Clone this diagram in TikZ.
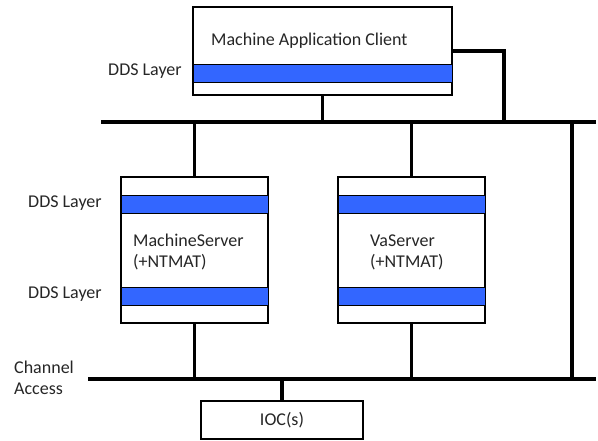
\documentclass[tikz,border=0pt]{standalone}
\usepackage{fontspec}
\setmainfont{Carlito}
\usetikzlibrary{positioning}
\definecolor{ddsblue}{RGB}{51,102,255}

\begin{document}
\begin{tikzpicture}[
    x=1pt, y=-1pt,
    every node/.style={font=\fontsize{18}{21}\selectfont, text=black!85},
    unit/.style={draw, line width=1.6pt, fill=white, inner sep=0pt},
    ddsband/.style={draw, line width=1pt, fill=ddsblue, inner sep=0pt, minimum height=18pt},
    bus/.style={line width=3.6pt},
    link/.style={line width=3.2pt},
    label/.style={anchor=west, inner sep=0pt, align=left}
]
\useasboundingbox (0,0) rectangle (598,440);

% Buses
\coordinate (topL) at (101,122);
\coordinate (topR) at (596,122);
\coordinate (botL) at (88,379);
\coordinate (botR) at (596,379);
\draw[bus] (topL) -- (topR);
\draw[bus] (botL) -- (botR);

% Machine Application Client
\node[unit, minimum width=259pt, minimum height=88pt] (MAC) at (322.5,51) {};
\node[ddsband, minimum width=259pt] (MACdds) at (322.5,73.5) {};
\node[label] (MACname) at (211,41) {Machine Application Client};

% Servers
\node[unit, minimum width=147pt, minimum height=146pt] (MS) at (194.5,250) {};
\node[ddsband, minimum width=147pt] (MSup) at (194.5,204.5) {};
\node[ddsband, minimum width=147pt] (MSdown) at (194.5,296) {};
\node[label] (MSname) at (133,252) {MachineServer\\(+NTMAT)};

\node[unit, minimum width=147pt, minimum height=146pt] (VS) at (411.5,250) {};
\node[ddsband, minimum width=147pt] (VSup) at (411.5,204.5) {};
\node[ddsband, minimum width=147pt] (VSdown) at (411.5,296) {};
\node[label] (VSname) at (370,252) {VaServer\\(+NTMAT)};

% IOC
\node[unit, minimum width=162pt, minimum height=38pt] (IOC) at (282,420) {IOC(s)};

% Connections
\coordinate (turn) at (504,51);
\coordinate (caTap) at (572,122);
\draw[link] (MAC.south) -- (MAC.south |- topL);
\draw[link] (MAC.east) -- (turn) -- (turn |- topL);
\draw[link] (caTap) -- (caTap |- botL);
\draw[link] (MS.north) -- (MS.north |- topL);
\draw[link] (MS.south) -- (MS.south |- botL);
\draw[link] (VS.north) -- (VS.north |- topL);
\draw[link] (VS.south) -- (VS.south |- botL);
\draw[link] (IOC.north) -- (IOC.north |- botL);

% Layer labels
\node[label] (ddsTop) at (108,71) {DDS Layer};
\node[label] (ddsUp) at (28,203) {DDS Layer};
\node[label] (ddsDown) at (28,294) {DDS Layer};
\node[label] (ca) at (14,378) {Channel\\Access};

\end{tikzpicture}
\end{document}
